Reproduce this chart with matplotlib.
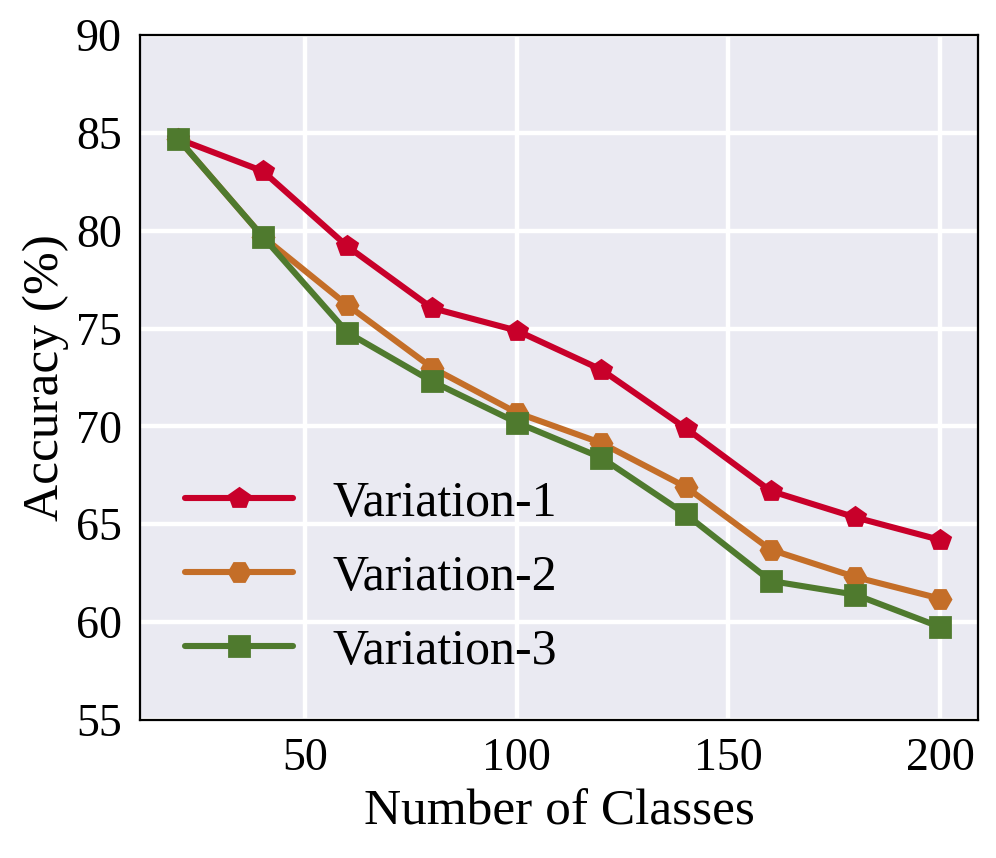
import numpy as np
import matplotlib.pyplot as plt
import seaborn as sns

classes = [20, 40, 60, 80, 100, 120, 140, 160, 180, 200]
var1 = [84.7, 83.05, 79.2, 76.05, 74.9, 72.9, 69.9, 66.7, 65.35, 64.2]
var2 = [84.7, 79.7, 76.2, 73.0, 70.7, 69.15, 66.9, 63.7, 62.3, 61.2]
var3 = [84.7, 79.7, 74.8, 72.3, 70.2, 68.4, 65.5, 62.1, 61.4, 59.75]
labels = ["Variation-1", "Variation-2", "Variation-3"]

sns.set_style("darkgrid")
plt.rcParams["font.family"] = ["Liberation Serif", "DejaVu Serif"]
plt.rcParams["text.color"] = "black"
plt.rcParams["axes.labelcolor"] = "black"
plt.rcParams["xtick.color"] = "black"
plt.rcParams["ytick.color"] = "black"

fig, ax = plt.subplots(figsize=(4.98, 4.29), dpi=200)
styles = [("#C8002A", "p"), ("#C46E28", "H"), ("#4F7A2E", "s")]
for ys, lab, (c, m) in zip([var1, var2, var3], labels, styles):
    ax.plot(classes, ys, color=c, marker=m, lw=2.2, markersize=7.5, label=lab)

ax.set_ylim(55, 90)
ax.set_xticks([50, 100, 150, 200])
ax.set_yticks([55, 60, 65, 70, 75, 80, 85, 90])
ax.tick_params(labelsize=16.5, length=3, width=0.8, direction="out", pad=3.5)
ax.set_xlabel("Number of Classes", fontsize=18.5, labelpad=3)
ax.set_ylabel("Accuracy (%)", fontsize=18.5, labelpad=2.5)
ax.grid(color="white", lw=1.6)
for s in ax.spines.values():
    s.set_visible(True)
    s.set_color("black")
    s.set_linewidth(0.8)

ax.legend(loc="lower left", fontsize=18, frameon=False, handlelength=2.15,
          bbox_to_anchor=(0.0, 0.0), labelspacing=0.55, handletextpad=0.8)

fig.subplots_adjust(left=0.1406, right=0.982, top=0.959, bottom=0.161)
fig.savefig("out.png")
